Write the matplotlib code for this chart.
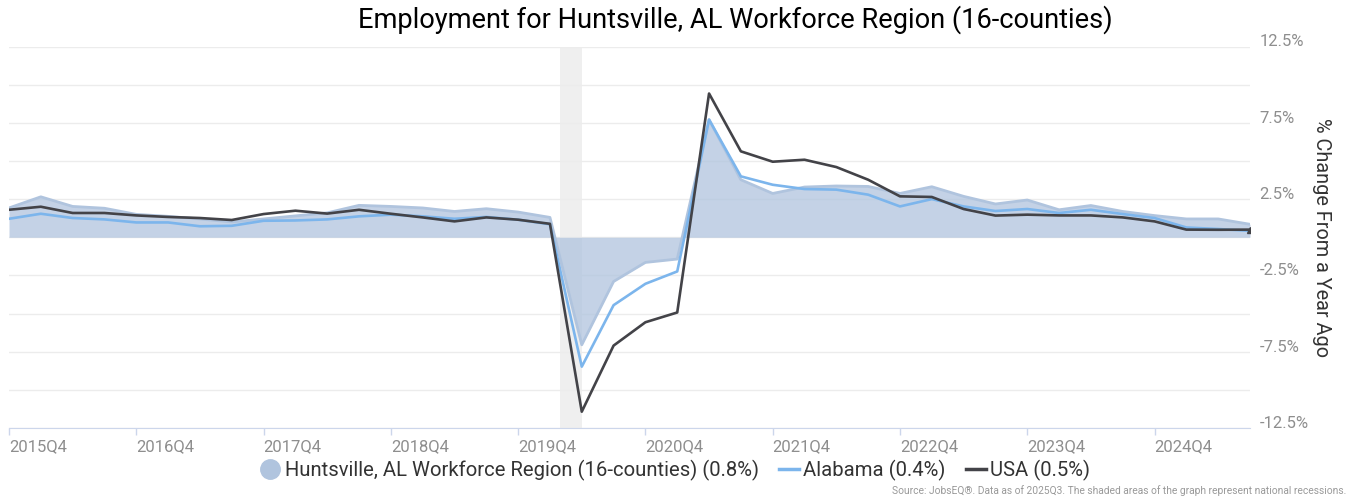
import matplotlib
matplotlib.use("Agg")
import matplotlib.pyplot as plt
from matplotlib.lines import Line2D

plt.rcParams['font.family'] = ['Roboto', 'DejaVu Sans']

# quarterly year-over-year employment change, 2015Q4 .. 2025Q3
quarters = [f"{y}Q{q}" for y in range(2015, 2026) for q in range(1, 5)][3:43]

huntsville = [1.92, 2.65, 2.02, 1.90, 1.50, 1.37, 1.20, 1.00, 1.20, 1.40,
              1.60, 2.09, 2.02, 1.92, 1.69, 1.87, 1.65, 1.30, -7.05, -2.90,
              -1.65, -1.43, 7.71, 3.77, 2.87, 3.29, 3.36, 3.33, 2.87, 3.31,
              2.68, 2.18, 2.44, 1.80, 2.08, 1.69, 1.42, 1.20, 1.20, 0.85]
alabama = [1.21, 1.54, 1.26, 1.17, 0.97, 0.97, 0.72, 0.75, 1.08, 1.10,
           1.17, 1.37, 1.48, 1.37, 1.21, 1.33, 1.15, 0.85, -8.48, -4.45,
           -3.05, -2.24, 7.71, 3.99, 3.44, 3.16, 3.12, 2.79, 2.02, 2.50,
           2.02, 1.72, 1.85, 1.59, 1.80, 1.52, 1.26, 0.64, 0.54, 0.42]
usa = [1.80, 2.00, 1.59, 1.59, 1.43, 1.33, 1.26, 1.13, 1.52, 1.74,
       1.55, 1.80, 1.54, 1.30, 1.04, 1.30, 1.15, 0.88, -11.43, -7.10,
       -5.57, -4.93, 9.42, 5.63, 4.95, 5.08, 4.60, 3.77, 2.68, 2.64,
       1.85, 1.42, 1.48, 1.43, 1.43, 1.30, 1.04, 0.50, 0.49, 0.50]

# recession (Feb 2020 - Apr 2020) in quarter-index units
recession = (17.33, 18.0)

legend_labels = ["Huntsville, AL Workforce Region (16-counties) (0.8%)",
                 "Alabama (0.4%)", "USA (0.5%)"]

hunts_col = "#b0c4de"
al_col = "#7cb5ec"
us_col = "#434348"

x = list(range(len(quarters)))

fig = plt.figure(figsize=(13.56, 5), dpi=100)
ax = fig.add_axes([9 / 1356, 1 - 428 / 500, (1250 - 9) / 1356, (428 - 46.5) / 500])

ax.axvspan(recession[0], recession[1], color="#efefef", lw=0, zorder=0)

ax.fill_between(x, 0, huntsville, color=hunts_col, alpha=0.75, lw=0, zorder=2)
ax.plot(x, huntsville, color=hunts_col, lw=2, zorder=3)
ax.plot(x, alabama, color=al_col, lw=1.9, zorder=4)
ax.plot(x, usa, color=us_col, lw=1.9, zorder=5)
ax.plot(x[-1], usa[-1], marker="^", ms=5, color=us_col, zorder=6)

ax.set_xlim(0, len(x) - 1)
ax.set_ylim(-12.5, 12.5)

# grid every 2.5%, labels every 5%
yt = [-12.5 + 2.5 * i for i in range(11)]
ax.set_yticks(yt)
ax.set_yticklabels([f"{v:.1f}%" if i % 2 == 0 else "" for i, v in enumerate(yt)],
                   va="baseline")
ax.yaxis.tick_right()
ax.tick_params(axis="y", length=0, pad=7, labelsize=12, labelcolor="#8e8e8e")
ax.grid(axis="y", color="#ececec", lw=1, zorder=1)
ax.set_axisbelow(True)

ax.set_xticks(x[::4])
ax.set_xticklabels(quarters[::4], ha="left")
ax.tick_params(axis="x", length=5, width=1, color="#ccd6eb", pad=3,
               labelsize=12, labelcolor="#8e8e8e")

for s in ["top", "left", "right"]:
    ax.spines[s].set_visible(False)
ax.spines["bottom"].set_color("#ccd6eb")
ax.spines["bottom"].set_zorder(1)

fig.text(1322 / 1356, 1 - 237 / 500, "% Change From a Year Ago", rotation=270,
         ha="center", va="center", fontsize=14.3, color="#333333")

fig.text(735 / 1356, 1 - 20 / 500,
         "Employment for Huntsville, AL Workforce Region (16-counties)",
         ha="center", va="center", fontsize=19.6, color="black")

handles = [
    Line2D([], [], ls="none", marker="o", ms=14, color=hunts_col),
    Line2D([], [], color=al_col, lw=2.5),
    Line2D([], [], color=us_col, lw=2.5),
]
fig.legend(handles, legend_labels, loc="center", bbox_to_anchor=(0.498, 1 - 470 / 500),
           ncol=3, frameon=False, fontsize=14.6, handlelength=1.0, handletextpad=0.2,
           columnspacing=1.0, labelcolor="#333333")

fig.text(1346 / 1356, 1 - 491 / 500,
         "Source: JobsEQ\u00ae. Data as of 2025Q3. The shaded areas of the graph represent national recessions.",
         ha="right", va="center", fontsize=7.35, color="#999999")

fig.savefig("out.png", dpi=100)
